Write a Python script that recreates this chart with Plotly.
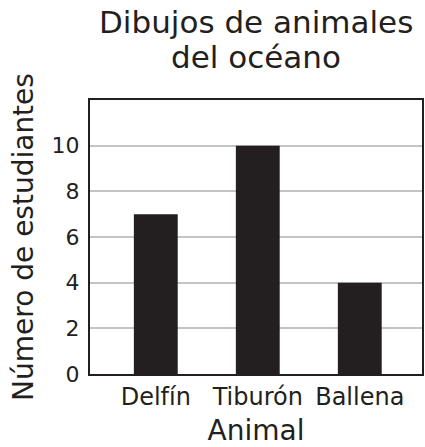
import plotly.graph_objects as go

animals = ["Delfín", "Tiburón", "Ballena"]
students = [7, 10, 4]
y_ticks = [0, 2, 4, 6, 8, 10]
title_lines = ["Dibujos de animales", "del océano"]

FONT = "DejaVu Sans"
DARK = "#231f20"

fig = go.Figure(go.Bar(x=animals, y=students, marker=dict(color=DARK, line=dict(width=0))))

fig.update_layout(
    width=425, height=447,
    margin=dict(l=90, r=1, t=100, b=73),
    paper_bgcolor="white", plot_bgcolor="white",
    bargap=0.57,
    showlegend=False,
    font=dict(family=FONT, color=DARK),
    annotations=[
        dict(text=title_lines[0], x=0.5, xref="paper", y=1, yref="paper",
             yanchor="middle", yshift=78, showarrow=False,
             font=dict(size=31, family=FONT, color=DARK)),
        dict(text=title_lines[1], x=0.5, xref="paper", y=1, yref="paper",
             yanchor="middle", yshift=43, showarrow=False,
             font=dict(size=31, family=FONT, color=DARK)),
    ],
)
fig.update_xaxes(
    range=[-0.645, 2.61],
    showline=True, linecolor=DARK, linewidth=2, mirror=True,
    showgrid=False, ticks="", tickfont=dict(size=24),
    title=dict(text="Animal", font=dict(size=28), standoff=14),
)
fig.update_yaxes(
    range=[0, 12], tickvals=y_ticks,
    showline=True, linecolor=DARK, linewidth=2, mirror=True,
    showgrid=True, gridcolor="#c4c4c4", gridwidth=2, zeroline=False,
    ticks="outside", ticklen=4, tickcolor="white", tickfont=dict(size=22),
    title=dict(text="Número de estudiantes", font=dict(size=28), standoff=10),
)

fig.write_html("out.html", config={"displayModeBar": False},
               post_script="document.body.style.margin='0';document.body.style.overflow='hidden';")
